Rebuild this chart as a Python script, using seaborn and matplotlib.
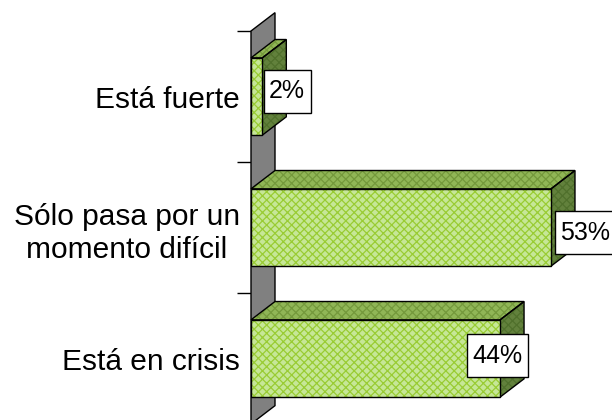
import matplotlib
matplotlib.use("Agg")
import matplotlib.pyplot as plt
from matplotlib.patches import Polygon, Rectangle
from matplotlib.path import Path
import seaborn as sns

# data
categories = ["Está fuerte", "Sólo pasa por un\nmomento difícil", "Está en crisis"]
values = [2, 53, 44]
value_labels = ["2%", "53%", "44%"]

# layout / style
label_dx = [4.4, 6.1, -0.4]     # label shift from bar end, in % units
label_dy = [-0.04, 0.04, -0.02]
DEPTH_X = 4.24                  # 3d depth, x (in % units)
DEPTH_Y = 0.14                  # 3d depth, y (in category units)
BAR_W = 0.59
FRONT, FRONT_HATCH = "#c8f48a", "#99cc33"
TOP, TOP_HATCH = "#90b656", "#74993c"
SIDE, SIDE_HATCH = "#62813c", "#50702c"
WALL = "#808080"

sns.set_style("white")
plt.rcParams["font.family"] = ["Liberation Sans", "DejaVu Sans"]
plt.rcParams["hatch.linewidth"] = 0.9
plt.rcParams["text.color"] = "black"
plt.rcParams["ytick.color"] = "black"


# label box: a bit taller than wide padding
def label_box(x0, y0, width, height, mutation_size):
    px, py = 0.22 * mutation_size, 0.38 * mutation_size
    x0, y0, x1, y1 = x0 - px, y0 - py, x0 + width + px, y0 + height + py
    return Path([(x0, y0), (x1, y0), (x1, y1), (x0, y1), (x0, y0)], closed=True)


fig = plt.figure(figsize=(6.12, 4.2), dpi=100)
ax = fig.add_axes([251 / 612, -4 / 420, 361 / 612, 393 / 420])

sns.barplot(x=values, y=categories, orient="h", width=BAR_W, color=FRONT,
            ax=ax, zorder=5)

ax.set_xlim(0, 361 / 5.66)
ax.set_ylim(2.5, -0.5)

# wall on the left
wall = Polygon([(0, 2.5), (0, -0.5), (DEPTH_X, -0.5 - DEPTH_Y), (DEPTH_X, 2.5 - DEPTH_Y)],
               closed=True, facecolor=WALL, edgecolor="black", lw=1, zorder=1, clip_on=False)
ax.add_patch(wall)

for p in list(ax.patches):
    if p is wall:
        continue
    x0, y0 = p.get_x(), p.get_y()
    w, h = p.get_width(), p.get_height()
    y_top, y_bot, x1 = y0, y0 + h, x0 + w
    p.set_hatch("xxxx")
    p.set_edgecolor(FRONT_HATCH)
    p.set_linewidth(0)
    # outline of the front face
    ax.add_patch(Rectangle((x0, y0), w, h, fill=False, edgecolor="black", lw=1, zorder=6))
    top = [(x0, y_top), (x1, y_top), (x1 + DEPTH_X, y_top - DEPTH_Y), (x0 + DEPTH_X, y_top - DEPTH_Y)]
    side = [(x1, y_top), (x1, y_bot), (x1 + DEPTH_X, y_bot - DEPTH_Y), (x1 + DEPTH_X, y_top - DEPTH_Y)]
    for pts, fc, hc in [(top, TOP, TOP_HATCH), (side, SIDE, SIDE_HATCH)]:
        ax.add_patch(Polygon(pts, closed=True, facecolor=fc, edgecolor=hc, lw=0,
                             hatch="xxxx", zorder=3, clip_on=False))
        ax.add_patch(Polygon(pts, closed=True, fill=False, edgecolor="black", lw=1,
                             zorder=4, clip_on=False))

for i, (v, lab) in enumerate(zip(values, value_labels)):
    ax.text(v + label_dx[i], i + label_dy[i], lab, ha="center", va="center", fontsize=18,
            zorder=10, clip_on=False,
            bbox=dict(boxstyle=label_box, facecolor="white", edgecolor="black", lw=1))

# axis styling
for s in ["top", "right", "bottom", "left"]:
    ax.spines[s].set_visible(False)
ax.set_xticks([])
ax.set_xlabel("")
ax.set_ylabel("")
ax.set_yticks([-0.5, 0.5, 1.5, 2.5], minor=True)
ax.tick_params(axis="y", which="major", length=0, pad=8, labelsize=21.5)
ax.tick_params(axis="y", which="minor", length=10, width=1, color="black", left=True)
ax.set_yticklabels(categories, ha="right", multialignment="center", linespacing=1.25)

fig.savefig("out.png", dpi=100)
